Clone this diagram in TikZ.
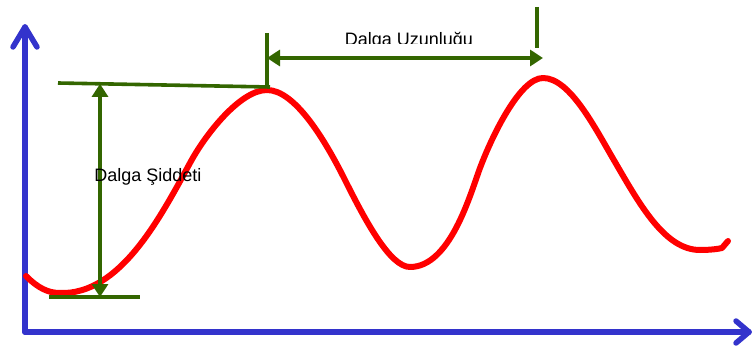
\documentclass[tikz,border=0pt]{standalone}
\usepackage{fontspec}
\setmainfont{Liberation Sans}
\usetikzlibrary{arrows.meta}
\definecolor{axisblue}{HTML}{3333CC}
\definecolor{dgreen}{HTML}{336600}
\begin{document}
\begin{tikzpicture}[x=1pt,y=-1pt,
  axis/.style={draw=axisblue,line width=5.5pt,line cap=round,line join=round},
  measure/.style={draw=dgreen,line width=3.6pt},
  dim/.style={measure,{Triangle[length=13pt,width=16pt]}-{Triangle[length=13pt,width=16pt]}},
  wave/.style={draw=red,line width=6pt,line cap=round,line join=round},
  lbl/.style={font=\fontsize{18}{20}\selectfont,inner sep=0pt,anchor=base}]
\useasboundingbox (0,0) rectangle (752,350);
% axes
\coordinate (o) at (25,332);
\coordinate (ytip) at (25,27);
\coordinate (xtip) at (749,332);
\draw[axis] (o) -- (ytip);
\draw[axis] (o) -- (xtip);
\draw[axis] (13,47) -- (ytip) -- (37,47);
\draw[axis] (736,321) -- (xtip) -- (736,343);
% wave
\draw[wave] (26,276)
  .. controls (38,288) and (48,293) .. (60,293)
  .. controls (120,295) and (160,218) .. (190,163)
  .. controls (205,135) and (240,90) .. (267,90)
  .. controls (295,90) and (325,140) .. (345,180)
  .. controls (365,220) and (390,267) .. (410,267)
  .. controls (450,267) and (470,195) .. (480,168)
  .. controls (492,136) and (520,78) .. (543,78)
  .. controls (570,78) and (595,128) .. (615,162)
  .. controls (640,205) and (665,250) .. (700,250)
  .. controls (710,250) and (718,249) .. (722,248)
  -- (728,241);
% amplitude
\coordinate (tl) at (58,83);
\coordinate (tr) at (270,87);
\coordinate (bl) at (49,297);
\coordinate (br) at (140,297);
\draw[measure] (tl) -- (tr);
\draw[measure] (bl) -- (br);
\coordinate (at) at (100,83.9);
\coordinate (ab) at (100,297);
\draw[dim] (at) -- (ab);
\node[lbl] (amp) at (148,181.5) {Dalga Şiddeti};
% wavelength
\coordinate (t1a) at (267,33);
\coordinate (t1b) at (267,87);
\coordinate (t2a) at (537,7);
\coordinate (t2b) at (537,48);
\draw[measure] (t1a) -- (t1b);
\draw[measure] (t2a) -- (t2b);
\coordinate (wl) at (267,58);
\coordinate (wr) at (543,58);
\draw[dim] (wl) -- (wr);
\begin{scope}
\clip (300,20) rectangle (520,43.5);
\node[lbl] (wlen) at (409,46) {Dalga Uzunluğu};
\end{scope}
\end{tikzpicture}
\end{document}
